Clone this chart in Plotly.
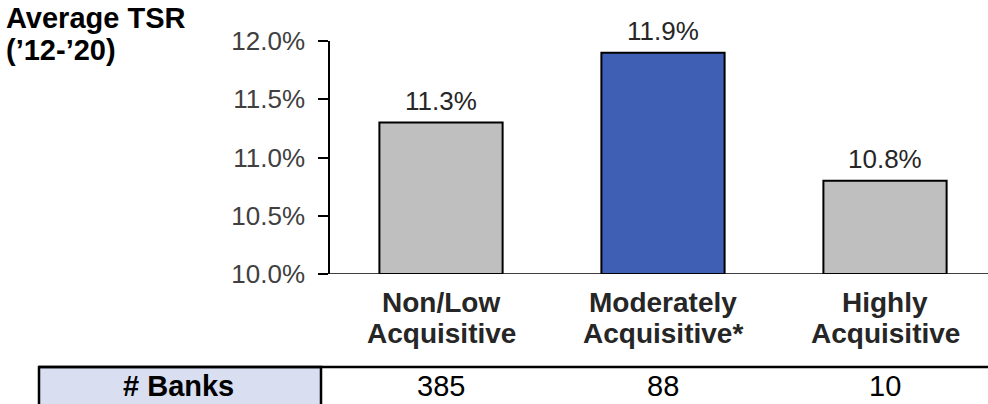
import plotly.graph_objects as go

# Average total shareholder return by acquisition intensity
category_lines = [("Non/Low", "Acquisitive"), ("Moderately", "Acquisitive*"), ("Highly", "Acquisitive")]
tsr_values = [11.3, 11.9, 10.8]
bank_counts = [385, 88, 10]
tick_vals = [10.0, 10.5, 11.0, 11.5, 12.0]
tick_text = ["10.0%", "10.5%", "11.0%", "11.5%", "12.0%"]

bar_colors = ["#BFBFBF", "#3F5FB5", "#BFBFBF"]
FONT = "Arial, Liberation Sans, sans-serif"

W, H = 988, 404
L, T, B = 330, 41, 130
plot_w = W - L
plot_h = H - T - B
x_pos = list(range(len(category_lines)))


def px_x(px):
    return (px - L) / plot_w


def px_y(py):
    return (H - B - py) / plot_h


fig = go.Figure(
    go.Bar(
        x=x_pos,
        y=[v - 10.0 for v in tsr_values],
        base=10.0,
        width=0.555,
        marker=dict(color=bar_colors, line=dict(color="#000000", width=2)),
        hoverinfo="skip",
    )
)

annotations = []
# value labels above the bars
for xi, v in zip(x_pos, tsr_values):
    annotations.append(dict(
        x=xi, y=v, xref="x", yref="y", text=f"{v:.1f}%", showarrow=False,
        yanchor="bottom", yshift=5, font=dict(family=FONT, size=26, color="#262626"),
    ))
# two-line category labels under the axis
for xi, (l1, l2) in zip(x_pos, category_lines):
    for text, py in ((l1, 302), (l2, 333)):
        annotations.append(dict(
            x=xi, y=px_y(py), xref="x", yref="paper", text=f"<b>{text}</b>",
            showarrow=False, yanchor="middle",
            font=dict(family=FONT, size=28, color="#262626"),
        ))
# bank counts row
for xi, n in zip(x_pos, bank_counts):
    annotations.append(dict(
        x=xi, y=px_y(404), xref="x", yref="paper", text=str(n), showarrow=False,
        yanchor="bottom", font=dict(family=FONT, size=29, color="#000000"),
    ))
annotations.append(dict(
    x=px_x(178), y=px_y(404), xref="paper", yref="paper", text="<b># Banks</b>",
    showarrow=False, xanchor="center", yanchor="bottom",
    font=dict(family=FONT, size=29, color="#000000"),
))
# y-axis title in the top-left corner
for text, py in (("Average TSR", 18), ("(’12-’20)", 50)):
    annotations.append(dict(
        x=px_x(4), y=px_y(py), xref="paper", yref="paper",
        text=f"<b>{text}</b>", showarrow=False,
        xanchor="left", yanchor="middle", font=dict(family=FONT, size=29, color="#000000"),
    ))

shapes = [
    # header cell of the counts row
    dict(type="rect", xref="paper", yref="paper", x0=px_x(39), x1=px_x(321),
         y0=px_y(420), y1=px_y(367), fillcolor="#D9DEF1",
         line=dict(color="#000000", width=2.5), layer="below"),
    # top rule of the counts row
    dict(type="line", xref="paper", yref="paper", x0=px_x(39), x1=px_x(990),
         y0=px_y(367), y1=px_y(367), line=dict(color="#000000", width=2.5)),
    # baseline across the full plot width
    dict(type="line", xref="paper", yref="y", x0=0, x1=1, y0=10.0, y1=10.0,
         line=dict(color="#000000", width=1.5)),
]

fig.update_layout(
    width=W, height=H,
    margin=dict(l=L, r=0, t=T, b=B),
    paper_bgcolor="#FFFFFF", plot_bgcolor="#FFFFFF",
    showlegend=False,
    annotations=annotations,
    shapes=shapes,
    xaxis=dict(
        range=[-0.5, -0.5 + plot_w / 222.0], showticklabels=False, ticks="",
        showgrid=False, zeroline=False, showline=False, fixedrange=True,
    ),
    yaxis=dict(
        range=[10.0, 12.0], tickvals=tick_vals, ticktext=tick_text,
        ticks="outside", ticklen=10, tickcolor="#000000", tickwidth=1.5,
        showline=True, linecolor="#000000", linewidth=1.5,
        showgrid=False, zeroline=False, ticklabelstandoff=8,
        tickfont=dict(family=FONT, size=26, color="#404040"),
    ),
)

fig.write_html("out.html")
